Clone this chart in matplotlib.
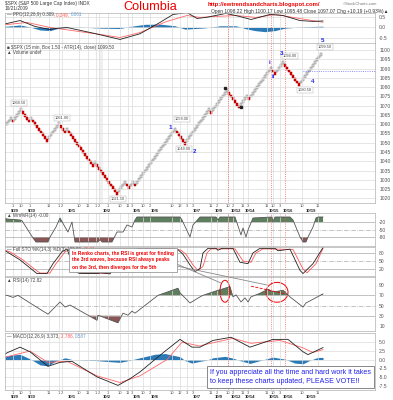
import matplotlib
matplotlib.use("Agg")
import matplotlib.pyplot as plt
from matplotlib.patches import Ellipse
from matplotlib.lines import Line2D

plt.rcParams['font.family'] = ['Liberation Sans', 'DejaVu Sans']

W, H = 393, 400

# renko bricks: signed run lengths, box 1.5
box = 1.5
start_low = 1059.5
runs = [3, -1, 4, -4, 1, -8, 6, -3, 1, -13, 1, -11, 4, -2, 2, -1, 20, -5, 12, -1,
        8, -6, 4, -1, 11, -2, 4, -8, 11]

# hour ticks and day labels (chart column position)
hour_x = [13, 21, 30, 49, 59, 62, 79, 88, 96, 99, 108, 120, 128, 132, 143, 150, 172, 180,
          187, 193, 211, 217, 228, 233, 243, 248, 267, 273, 280, 302, 318]
hour_lbl = ["1", "10", "1", "11", "1", "2", "10", "11", "1", "2", "1", "10", "11", "3", "10", "2",
            "10", "12", "3", "3", "11", "2", "10", "2", "11", "3", "11", "10", "3", "10", "11"]
day_x = [15, 32, 72, 107, 137, 155, 197, 219, 236, 250, 274, 288, 311]
day_lbl = ["9/29", "9/30", "10/1", "10/2", "10/5", "10/6", "10/7", "10/9", "10/12", "10/14",
           "10/15", "10/16", "10/19"]
marker_x = [228, 271, 285]

# PPO(12,26,9)
ppo_x = [5, 7, 20, 35, 50, 55, 67, 95, 120, 140, 160, 173, 187, 197, 206, 226, 240, 251, 270, 283, 300, 313, 323]
ppo_v = [0.2, 0.19, 0.33, 0.05, -0.1, -0.05, 0.0, -0.29, -0.57, -0.3, 0.24, 0.62, 0.71, 0.43, 0.48, 0.67, 0.52, 0.38, 0.62, 0.57, 0.33, 0.29, 0.31]
ppo_sig_x = [5, 7, 27, 50, 100, 120, 140, 167, 187, 200, 213, 236, 256, 276, 293, 323]
ppo_sig_v = [0.14, 0.14, 0.24, 0.0, -0.33, -0.48, -0.24, 0.29, 0.57, 0.48, 0.52, 0.57, 0.48, 0.62, 0.48, 0.25]
ppo_h_x = [5, 7, 20, 30, 40, 50, 60, 80, 100, 120, 130, 145, 160, 175, 185, 195, 205, 220, 236, 245, 255, 265, 275, 285, 300, 315, 323]
ppo_h_v = [0.06, 0.06, 0.12, 0.02, -0.12, -0.15, -0.02, 0.02, -0.03, -0.05, 0.05, 0.15, 0.16, 0.08, -0.08, -0.05, -0.02, 0.08, 0.08, -0.05, -0.15, -0.2, -0.15, -0.03, 0.02, 0.05, 0.06]

# Williams %R(14)
wr_x = [5, 7, 20, 22, 33, 36, 48, 50, 56, 60, 65, 68, 72, 75, 98, 100, 102, 112, 117, 123, 127, 132, 135, 137,
        180, 182, 190, 193, 200, 216, 218, 220, 235, 236, 240, 241, 243, 246, 248, 253, 272, 273, 275, 290,
        293, 300, 303, 306, 308, 313, 316, 318, 323]
wr_v = [-5, -8, -12, -15, -84, -100, -100, -80, -40, -4, -40, -60, -20, -100, -100, -90, -100, -100, -60, -60, -32, -40, -12, 0,
        0, -12, -80, -32, 0, 0, -12, 0, 0, -12, -60, -72, -44, -80, -52, -4, 0, -20, 0, 0,
        -12, -80, -100, -100, -80, -40, -4, 0, 0]

# Full STO %K(14,3) %D(3)
stok_x = [5, 7, 20, 30, 37, 47, 53, 62, 67, 70, 75, 80, 98, 100, 110, 117, 127, 133, 140, 170, 178, 183, 190, 195,
          200, 203, 208, 216, 218, 222, 233, 240, 248, 253, 260, 275, 278, 290, 300, 303, 313, 323]
stok_v = [88, 84, 54, 24, 3, 3, 40, 84, 95, 65, 10, 3, 3, 6, 2, 40, 72, 92, 96, 96, 92, 75, 35, 10,
          22, 80, 97, 97, 90, 97, 97, 45, 40, 80, 97, 97, 88, 94, 15, 3, 40, 100]
stod_x = [5, 10, 23, 33, 40, 50, 56, 65, 70, 73, 78, 84, 110, 120, 130, 137, 145, 172, 181, 186, 193, 198,
          203, 207, 211, 235, 243, 251, 256, 263, 293, 303, 307, 316, 323]
stod_v = [90, 84, 54, 24, 5, 5, 40, 84, 93, 65, 12, 4, 4, 40, 72, 92, 96, 96, 90, 75, 35, 14,
          30, 80, 95, 95, 50, 45, 80, 95, 93, 20, 6, 40, 96.61]

# RSI(14)
rsi_x = [5, 7, 13, 18, 30, 48, 60, 65, 70, 97, 98, 118, 123, 128, 132, 135, 158, 178, 180, 190, 200, 203,
         215, 230, 233, 236, 241, 245, 248, 251, 260, 268, 272, 275, 283, 290, 303, 306, 323]
rsi_v = [70, 70, 66, 70, 55, 33, 57, 47, 51, 21, 31, 16, 35, 31, 39, 35, 70, 84, 75, 55, 67, 70,
         78, 87, 67, 71, 57, 65, 57, 67, 74, 82, 78, 77, 80, 67, 47, 55, 72.82]

# MACD(12,26,9)
macd_x = [5, 7, 20, 30, 48, 60, 72, 97, 118, 130, 140, 163, 180, 192, 200, 213, 231, 250, 273, 288, 303, 308, 323]
macd_v = [1.5, 1.9, 3.5, 2.2, -1.9, -0.8, -0.5, -4.9, -7.3, -5.4, -3.5, 1.9, 5.7, 3.5, 3.5, 5.4, 6.3, 3.5, 5.7, 5.7, 2.2, 1.4, 3.37]
msig_x = [5, 7, 30, 48, 67, 97, 120, 140, 167, 182, 200, 203, 233, 251, 280, 303, 313, 323]
msig_v = [0.5, 0.8, 2.4, -0.8, -0.5, -4.6, -6.5, -4.6, 0.0, 4.9, 3.8, 4.1, 6.0, 4.6, 5.4, 3.3, 2.0, 2.79]
mh_x = [5, 7, 20, 30, 40, 48, 55, 60, 65, 72, 97, 110, 120, 130, 140, 155, 165, 180, 185, 192, 200, 206,
        213, 225, 233, 240, 250, 260, 273, 285, 295, 303, 310, 318, 323]
mh_v = [1.0, 1.1, 1.5, 0.2, -1.5, -1.8, -0.5, 0.0, 0.5, 0.0, -0.3, -0.6, -0.8, -0.2, 0.5, 1.5, 1.7, 0.8, -0.3, -1.0, -0.5, -0.2,
        0.5, 0.9, 0.4, -0.3, -1.1, -0.3, 0.7, 0.1, -1.0, -1.2, -0.2, 0.6, 0.59]

GRID = '#dcdcdc'
fig = plt.figure(figsize=(W / 100, H / 100), dpi=100)


def ftext(x, y, s, **kw):
    kw.setdefault('va', 'center')
    return fig.text(x / W, 1 - y / H, s, **kw)


def legend_line(ax, x, y, parts, size=3.3):
    # pieces of one legend line, each placed right after the previous one
    t = ax.text(x, y, parts[0][0], color=parts[0][1], fontsize=size, va='center')
    for s, c in parts[1:]:
        t = ax.annotate(s, xy=(1, 0), xycoords=t, va='bottom', ha='left', color=c, fontsize=size)


def panel(top, bottom, lo, hi, ticks, labels):
    ax = fig.add_axes([5 / W, 1 - bottom / H, 370 / W, (bottom - top) / H])
    ax.set_xlim(5, 375)
    ax.set_ylim(lo, hi)
    ax.set_xticks(hour_x)
    ax.set_xticklabels([])
    ax.yaxis.tick_right()
    ax.set_yticks(ticks)
    ax.set_yticklabels(labels)
    ax.tick_params(length=0, labelsize=3.6, labelcolor='#555555', pad=3)
    ax.grid(axis='x', color=GRID, lw=0.5)
    for s in ax.spines.values():
        s.set_color('#b0b0b0')
        s.set_linewidth(0.5)
    for xm in marker_x:
        ax.axvline(xm, color='#ff5555', ls=':', lw=0.6)
    return ax


# ---- PPO
ax = panel(13, 43, -0.74, 0.69, [0.5, 0.0, -0.5], ["0.5", "0.0", "-0.5"])
ax.grid(axis='y', color=GRID, lw=0.5)
ax.fill_between(ppo_h_x, 0, ppo_h_v, color='#2a7ab8', lw=0)
ax.plot(ppo_sig_x, ppo_sig_v, color='#ff6666', lw=0.6)
ax.plot(ppo_x, ppo_v, color='#222222', lw=0.6)
legend_line(ax, 7, 0.6, [("\u2014 PPO(12,26,9) 0.309, ", '#444444'), ("0.249, ", '#ff5555'), ("0.061", '#6a9ccc')])

# ---- Renko
ax = panel(43, 203, 1017.5, 1103.8, list(range(1020, 1101, 5)), [str(v) for v in range(1020, 1101, 5)])
ax.grid(axis='y', color=GRID, lw=0.5)
ax.axvspan(99, 103, color='#f0f0f0', lw=0, zorder=0)
xs, lows, faces, edges = [], [], [], []
lo = start_low - box
hi = start_low
i = 0
for r in runs:
    for _ in range(abs(r)):
        if r > 0:
            lo, hi = hi, hi + box
            faces.append('#e2e2e2')
            edges.append('#7a7a7a')
        else:
            lo, hi = lo - box, lo
            faces.append('#dd0000')
            edges.append('#aa0000')
        xs.append(7 + 2 * i)
        lows.append(lo)
        i += 1
ax.bar(xs, box, bottom=lows, width=1.7, color=faces, edgecolor=edges, linewidth=0.35)
ax.axhline(1088.5, xmin=(303 - 5) / 370, xmax=1, color='#6666ff', ls=':', lw=0.6)

lbl_kw = dict(fontsize=2.8, color='#444444', ha='center', va='center',
              bbox=dict(boxstyle='square,pad=0.25', fc='white', ec='#aaaaaa', lw=0.3))
ax.text(19, 1071.5, "1068.50", **lbl_kw)
ax.text(62, 1063.5, "1061.00", **lbl_kw)
ax.text(118, 1019.8, "1021.50", **lbl_kw)
ax.text(182, 1062.8, "1058.00", **lbl_kw)
ax.text(184, 1046.5, "1049.00", **lbl_kw)
ax.text(290, 1097.0, "1094.00", **lbl_kw)
ax.text(305, 1078.5, "1080.50", **lbl_kw)
ax.text(325, 1101.5, "1099.50", **lbl_kw)
bl = dict(fontsize=4.5, color='#2222ee', ha='center', va='center', fontweight='bold')
ax.text(170, 1058.3, "1", **bl)
ax.text(195, 1045.5, "2", **bl)
ax.text(270, 1093.5, "i", **bl)
ax.text(273, 1086.0, "ii", **bl)
ax.text(282, 1098.0, "3", **bl)
ax.text(313, 1083.0, "4", **bl)
ax.text(323, 1105.0, "5", **bl)
ax.plot([225, 241], [1079.5, 1069.2], ls='none', marker='s', ms=1.6, color='#222222')
ax.text(7, 1101.5, "\u25a0 $SPX (15 min, Box 1.50 - ATR(14), close) 1099.50", fontsize=3.3, color='#444444', va='center')
ax.text(7, 1098.8, "\u25b2 Volume undef", fontsize=3.3, color='#444444', va='center')

# ---- Williams %R
ax = panel(213, 246, -116, 16, [-20, -50, -80], ["-20", "-50", "-80"])
ax.axhline(-20, color='#aaaaaa', lw=0.5)
ax.axhline(-80, color='#aaaaaa', lw=0.5)
ax.axhline(-50, color='#aaaaaa', lw=0.5, ls='-.')
ax.fill_between(wr_x, -20, wr_v, where=[v >= -20 for v in wr_v], interpolate=True, color='#5e7f5e', lw=0)
ax.fill_between(wr_x, -80, wr_v, where=[v <= -80 for v in wr_v], interpolate=True, color='#8a5555', lw=0)
ax.plot(wr_x, wr_v, color='#555555', lw=0.6)
ax.text(7, 8, "\u25b2 Wm%R(14) -0.00", fontsize=3.3, color='#444444', va='center')

# ---- Full STO
ax = panel(247, 276, -6, 102, [80, 50, 20], ["80", "50", "20"])
ax.axhline(80, color='#aaaaaa', lw=0.5)
ax.axhline(20, color='#aaaaaa', lw=0.5)
ax.axhline(50, color='#aaaaaa', lw=0.5, ls='-.')
ax.plot(stod_x, stod_v, color='#ff5555', lw=0.6)
ax.plot(stok_x, stok_v, color='#222222', lw=0.6)
legend_line(ax, 7, 93, [("\u2014 Full STO %K(14,3) %D(3) 100.00, ", '#444444'), ("96.61", '#ff5555')])

# ---- RSI
ax = panel(277, 331, 0, 106, [90, 70, 50, 30, 10], ["90", "70", "50", "30", "10"])
ax.axhline(70, color='#aaaaaa', lw=0.5)
ax.axhline(30, color='#aaaaaa', lw=0.5)
ax.axhline(50, color='#aaaaaa', lw=0.5, ls='-.')
ax.fill_between(rsi_x, 70, rsi_v, where=[v >= 70 for v in rsi_v], interpolate=True, color='#5e7f5e', lw=0)
ax.fill_between(rsi_x, 30, rsi_v, where=[v <= 30 for v in rsi_v], interpolate=True, color='#8a5555', lw=0)
ax.plot(rsi_x, rsi_v, color='#555555', lw=0.6)
ax.text(7, 99, "\u25b2 RSI(14) 72.82", fontsize=3.3, color='#444444', va='center')
ax.add_patch(Ellipse((225, 78), 10, 43, fill=False, ec='#ee0000', lw=0.7, clip_on=False))
ax.add_patch(Ellipse((277, 76), 22, 39, fill=False, ec='#ee0000', lw=0.7, clip_on=False))
ax.plot([251, 285], [88, 73], color='#ee0000', ls='--', lw=0.6)

# ---- MACD
ax = panel(333, 390, -8.6, 7.5, [5.0, 2.5, 0.0, -2.5, -5.0, -7.5], ["5.0", "2.5", "0.0", "-2.5", "-5.0", "-7.5"])
ax.grid(axis='y', color=GRID, lw=0.5)
ax.fill_between(mh_x, 0, mh_v, color='#2a7ab8', lw=0)
ax.plot(msig_x, msig_v, color='#ff6666', lw=0.6)
ax.plot(macd_x, macd_v, color='#222222', lw=0.6)
legend_line(ax, 7, 6.6, [("\u2014 MACD(12,26,9) 3.373, ", '#444444'), ("2.786, ", '#ff5555'), ("0.587", '#6a9ccc')])

# ---- time labels under the price panel and at the bottom
for yh, yd in [(206, 210.5), (392.5, 397)]:
    for xh, s in zip(hour_x, hour_lbl):
        ftext(xh, yh, s, fontsize=3.0, color='#555555', ha='center')
    for xd, s in zip(day_x, day_lbl):
        ftext(xd, yd, s, fontsize=3.0, color='#222222', ha='center', fontweight='bold')

# ---- header
ftext(5, 3, "$SPX (S&P 500 Large Cap Index) INDX", fontsize=3.4, color='#333333', ha='left')
ftext(5, 9, "10/21/2009", fontsize=3.4, color='#333333', ha='left')
ftext(150, 6.5, "Columbia", fontsize=9.2, color='#ee0000', ha='center')
ftext(208, 4.5, "http://ewtrendsandcharts.blogspot.com/", fontsize=4.2, color='#ee0000', ha='left', fontweight='bold')
ftext(377, 4, "\u00a9StockCharts.com", fontsize=3.0, color='#777777', ha='right')
ftext(211, 11, "Open 1098.22 High 1100.17 Low 1095.48 Close 1097.07 Chg +10.19 (+0.93%)\u25b2",
      fontsize=3.5, color='#333333', ha='left')

# ---- notes
ftext(72, 260, "In Renko charts, the RSI is great for finding\nthe 3rd waves, because RSI always peaks\n"
      "on the 3rd, then diverges for the 5th", fontsize=3.5, color='#ee0000', ha='left',
      linespacing=1.5, fontweight='bold',
      bbox=dict(boxstyle='square,pad=0.6', fc='white', ec='#999999', lw=0.6))
for (x0, y0), (x1, y1) in [((172, 262), (221, 283)), ((172, 265), (267, 285))]:
    fig.add_artist(Line2D([x0 / W, x1 / W], [1 - y0 / H, 1 - y1 / H], color='#888888', lw=0.6))
ftext(210, 377, "If you appreciate all the time and hard work it takes\nto keep these charts updated, PLEASE VOTE!!",
      fontsize=5.1, color='#2222ee', ha='left', linespacing=1.4,
      bbox=dict(boxstyle='square,pad=0.4', fc='white', ec='#888888', lw=0.7))

fig.savefig("out.png", dpi=100)
